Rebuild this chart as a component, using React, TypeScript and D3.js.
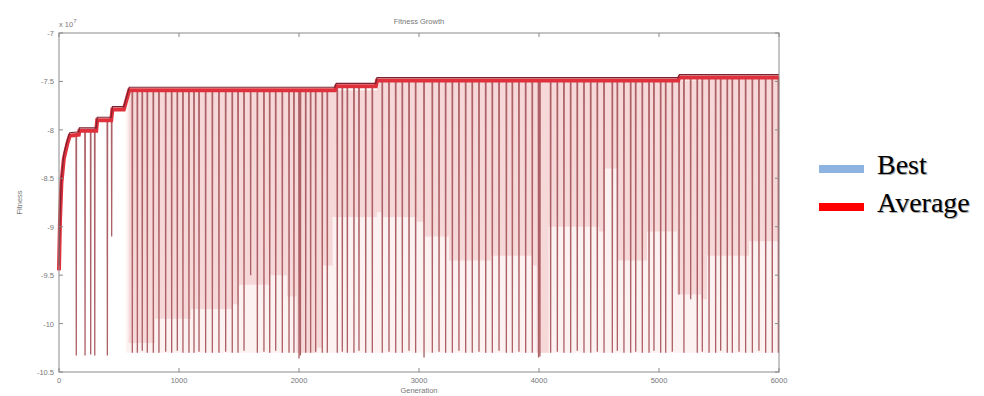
import React from 'react';
import * as d3 from 'd3';

const W = 984;
const H = 396;

// axis ticks
const generationTicks = [0, 1000, 2000, 3000, 4000, 5000, 6000];
const fitnessTicks = [-7, -7.5, -8, -8.5, -9, -9.5, -10, -10.5];

// best fitness (x 10^7) as [generation, value]
const bestPoints: [number, number][] = [
  [0, -9.4], [8, -8.9], [20, -8.5], [40, -8.25], [70, -8.1], [90, -8.03], [165, -8.02],
  [170, -7.98], [310, -7.98], [318, -7.87], [435, -7.87], [445, -7.76], [540, -7.76],
  [585, -7.56], [2300, -7.56], [2310, -7.52], [2640, -7.52], [2650, -7.46],
  [5160, -7.46], [5170, -7.43], [6000, -7.43],
];

// upper edge of the average curve (between the drops)
const avgTopPoints: [number, number][] = [
  [0, -9.45], [8, -8.95], [20, -8.55], [40, -8.3], [70, -8.14], [90, -8.06], [165, -8.05],
  [170, -8.01], [310, -8.01], [318, -7.9], [435, -7.9], [445, -7.79], [540, -7.79],
  [585, -7.59], [2300, -7.59], [2310, -7.55], [2640, -7.55], [2650, -7.49],
  [5160, -7.49], [5170, -7.46], [6000, -7.46],
];

// drops of the average curve: [generation, lowest value]
const spikes: [number, number][] = [
  [144, -10.33], [217, -10.33], [264, -10.32], [298, -10.33], [403, -10.33], [439, -9.1],
  [611, -10.3], [653, -10.3], [694, -10.28], [736, -10.3], [786, -10.3], [833, -10.3],
  [889, -10.29], [939, -10.3], [986, -10.28], [1033, -10.3], [1083, -10.3], [1125, -10.3],
  [1167, -10.29], [1222, -10.3], [1278, -10.3], [1333, -10.3], [1389, -10.29], [1444, -10.3],
  [1492, -10.3], [1542, -10.28], [1597, -9.5], [1653, -10.3], [1708, -10.29], [1756, -10.3],
  [1806, -10.28], [1861, -10.3], [1917, -10.3], [1958, -10.3], [2000, -10.36], [2012, -10.33],
  [2056, -10.3], [2097, -10.3], [2139, -10.29], [2194, -10.3], [2236, -10.3], [2319, -10.3],
  [2361, -10.29], [2403, -10.3], [2458, -10.3], [2500, -10.28], [2556, -10.3], [2611, -10.3],
  [2694, -10.3], [2750, -10.29], [2806, -10.3], [2861, -10.3], [2917, -10.28], [2972, -10.3],
  [3042, -10.35], [3111, -10.3], [3167, -10.29], [3222, -10.3], [3278, -10.3], [3333, -10.28],
  [3389, -10.3], [3444, -10.3], [3500, -10.29], [3556, -10.3], [3611, -10.3], [3667, -10.28],
  [3728, -10.3], [3778, -10.3], [3833, -10.29], [3889, -10.3], [3944, -10.3], [3996, -10.35],
  [4008, -10.34], [4097, -10.3], [4153, -10.29], [4208, -10.3], [4264, -10.3], [4319, -10.28],
  [4375, -10.3], [4431, -10.3], [4486, -10.29], [4542, -10.3], [4611, -10.3], [4653, -10.28],
  [4708, -10.3], [4764, -10.3], [4806, -10.29], [4861, -10.3], [4917, -10.3], [4958, -10.28],
  [5014, -10.3], [5056, -10.3], [5111, -10.29], [5167, -9.7], [5208, -10.3], [5264, -9.75],
  [5319, -10.3], [5361, -10.29], [5417, -10.3], [5472, -10.3], [5514, -10.28], [5569, -10.3],
  [5611, -10.3], [5667, -10.29], [5722, -10.3], [5778, -10.3], [5833, -10.28], [5889, -10.3],
  [5944, -10.3], [5995, -10.3],
];

// lower edge of the dense band of small drops
const densePoints: [number, number][] = [
  [580, -10.2], [800, -9.95], [1100, -9.85], [1450, -9.8], [1500, -9.6], [1750, -9.5],
  [1900, -9.72], [1980, -10.3], [2150, -10.25], [2200, -9.4], [2280, -8.9], [2650, -8.85],
  [2700, -8.9], [2980, -8.95], [3050, -9.1], [3250, -9.35], [3600, -9.3], [3950, -9.4],
  [3980, -10.3], [4060, -10.3], [4080, -9.0], [4500, -9.05], [4550, -8.4], [4650, -9.35],
  [4900, -9.05], [5150, -9.7], [5350, -9.75], [5400, -9.3], [5700, -9.3], [5750, -9.15],
  [6000, -9.15],
];

const legendItems = [
  { label: 'Best', color: '#8db3e2' },
  { label: 'Average', color: '#ff0000' },
];

export default function App() {
  const margin = { top: 33, right: 205, bottom: 24, left: 59 };
  const x = d3.scaleLinear().domain([0, 6000]).range([margin.left, W - margin.right]);
  const y = d3.scaleLinear().domain([-10.5, -7]).range([H - margin.bottom, margin.top]);

  // upper edge of the average as a lookup
  const avgTop = d3.scaleLinear()
    .domain(avgTopPoints.map(d => d[0]))
    .range(avgTopPoints.map(d => d[1]));

  // average curve: the upper edge with its drops
  const avgPath: [number, number][] = [];
  let i = 0;
  spikes.forEach(([g, v]) => {
    while (i < avgTopPoints.length && avgTopPoints[i][0] < g - 2) {
      avgPath.push(avgTopPoints[i]);
      i++;
    }
    avgPath.push([g - 2, avgTop(g - 2)], [g, v], [g + 2, avgTop(g + 2)]);
  });
  while (i < avgTopPoints.length) { avgPath.push(avgTopPoints[i]); i++; }

  const line = d3.line<[number, number]>().x(d => x(d[0])).y(d => y(d[1]));

  const lightArea = d3.area<[number, number]>()
    .x(d => x(d[0]))
    .y0(d => y(avgTop(d[0])))
    .y1(() => y(-10.3));

  const denseArea = d3.area<[number, number]>()
    .curve(d3.curveStepAfter)
    .x(d => x(d[0]))
    .y0(d => y(avgTop(d[0])))
    .y1(d => y(d[1]));

  const [x0, x1] = x.range();
  const [yb, yt] = y.range();
  const axisColor = '#8a8a8a';
  const textColor = '#777';

  return (
    <div style={{ position: 'absolute', left: 0, top: 0 }}>
      <svg width={W} height={H} style={{ display: 'block', background: '#fff' }}>
        <text x={(x0 + x1) / 2} y={24} textAnchor="middle" fontFamily="Liberation Sans" fontSize={7.5} fill={textColor}>
          Fitness Growth
        </text>

        <path d={lightArea([[560, 0], [6000, 0]]) ?? ''} fill="#fdf2f2" />
        <path d={denseArea(densePoints) ?? ''} fill="#f6d8d8" />

        <path d={line(avgPath) ?? ''} fill="none" stroke="#ad6065" strokeWidth={1.3} />
        <path d={line(avgTopPoints) ?? ''} fill="none" stroke="#e0303c" strokeWidth={4} />
        <path d={line(bestPoints) ?? ''} fill="none" stroke="#7a2230" strokeWidth={1.2} />

        {/* box */}
        <rect x={x0} y={yt} width={x1 - x0} height={yb - yt} fill="none" stroke={axisColor} strokeWidth={1} />

        {generationTicks.map(t => (
          <g key={'x' + t}>
            <line x1={x(t)} x2={x(t)} y1={yb} y2={yb - 4} stroke={axisColor} />
            <line x1={x(t)} x2={x(t)} y1={yt} y2={yt + 4} stroke={axisColor} />
            <text x={x(t)} y={yb + 11} textAnchor="middle" fontFamily="Liberation Sans" fontSize={7.5} fill={textColor}>
              {t}
            </text>
          </g>
        ))}
        {fitnessTicks.map(t => (
          <g key={'y' + t}>
            <line x1={x0} x2={x0 + 4} y1={y(t)} y2={y(t)} stroke={axisColor} />
            <line x1={x1} x2={x1 - 4} y1={y(t)} y2={y(t)} stroke={axisColor} />
            <text x={x0 - 5} y={y(t) + 3} textAnchor="end" fontFamily="Liberation Sans" fontSize={7.5} fill={textColor}>
              {t}
            </text>
          </g>
        ))}

        {/* exponent */}
        <text x={x0} y={yt - 6} fontFamily="Liberation Sans" fontSize={7.5} fill={textColor}>
          x 10<tspan dy={-4} fontSize={6}>7</tspan>
        </text>

        <text x={(x0 + x1) / 2} y={393} textAnchor="middle" fontFamily="Liberation Sans" fontSize={7.5} fill={textColor}>
          Generation
        </text>
        <text transform={`translate(22, ${(yt + yb) / 2}) rotate(-90)`} textAnchor="middle" fontFamily="Liberation Sans" fontSize={7.5} fill={textColor}>
          Fitness
        </text>

        {/* legend */}
        {legendItems.map((d, k) => {
          const cy = 169 + k * 38;
          return (
            <g key={d.label}>
              <rect x={819} y={cy - 4} width={45} height={8} fill={d.color} />
              <text x={878} y={cy + 6} fontFamily="Liberation Serif" fontSize={28} fill="#aaa">{d.label}</text>
              <text x={877} y={cy + 5} fontFamily="Liberation Serif" fontSize={28} fill="#000">{d.label}</text>
            </g>
          );
        })}
      </svg>
    </div>
  );
}
